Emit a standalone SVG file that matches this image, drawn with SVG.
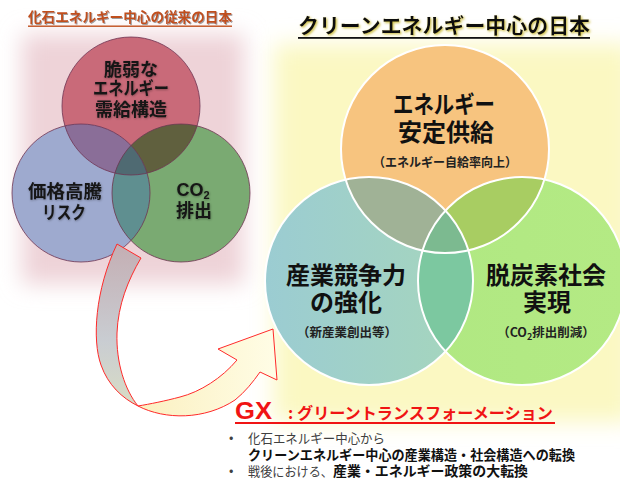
<svg xmlns="http://www.w3.org/2000/svg" width="620" height="479" viewBox="0 0 620 479">
<defs>
<style>
.jp{font-family:"Noto Sans CJK JP","Liberation Sans",sans-serif;}
.b{font-weight:bold;}
.lt{font-size:18px;fill:#151515;font-weight:bold;}
.rt{font-size:24px;fill:#111;font-weight:bold;}
.rs{font-size:12.5px;fill:#222;font-weight:bold;}
.ls{fill:none;stroke:#6e3452;stroke-width:0.8;}
.ws{fill:none;stroke:#ffffff;stroke-width:2;}
.bul{font-size:13px;fill:#404040;}
</style>
<filter id="blur" x="-20%" y="-20%" width="140%" height="140%"><feGaussianBlur stdDeviation="11"/></filter>
<filter id="sh1" x="-10%" y="-30%" width="120%" height="160%"><feDropShadow dx="1" dy="1" stdDeviation="0.6" flood-color="#777" flood-opacity="0.7"/></filter>
<filter id="sh2" x="-10%" y="-30%" width="120%" height="160%"><feDropShadow dx="1.2" dy="1.2" stdDeviation="0.8" flood-color="#c8b830" flood-opacity="0.9"/></filter>
<filter id="sh3" x="-10%" y="-30%" width="120%" height="160%"><feDropShadow dx="0.5" dy="0.8" stdDeviation="0.9" flood-color="#000" flood-opacity="0.35"/></filter>
<clipPath id="cR"><circle cx="131" cy="106" r="69"/></clipPath>
<clipPath id="cB"><circle cx="81" cy="193" r="69"/></clipPath>
<clipPath id="cG"><circle cx="181" cy="193" r="69"/></clipPath>
<clipPath id="cO"><circle cx="445" cy="149" r="104"/></clipPath>
<clipPath id="cT"><circle cx="369" cy="281" r="104"/></clipPath>
<clipPath id="cL"><circle cx="522" cy="281" r="104"/></clipPath>
<linearGradient id="gT" x1="0" y1="0" x2="1" y2="0"><stop offset="0" stop-color="#9bccd2"/><stop offset="1" stop-color="#a6d6bc"/></linearGradient>
<linearGradient id="gL" x1="0" y1="0" x2="1" y2="0"><stop offset="0" stop-color="#b0e882"/><stop offset="1" stop-color="#b4ea84"/></linearGradient>
<linearGradient id="gA" x1="0" y1="0" x2="0" y2="1"><stop offset="0" stop-color="#c4aeb3"/><stop offset="0.6" stop-color="#c9cdd2"/><stop offset="1" stop-color="#d9dcc4"/></linearGradient>
<linearGradient id="gB" x1="0" y1="0" x2="1" y2="0"><stop offset="0" stop-color="#fbf0c0"/><stop offset="1" stop-color="#fffde6"/></linearGradient>
</defs>
<rect width="620" height="479" fill="#ffffff"/>
<rect x="22" y="34" width="222" height="250" fill="#eed3d8" filter="url(#blur)"/>
<rect x="274" y="44" width="360" height="378" fill="#fbf8c2" filter="url(#blur)"/>

<g id="title-left">
<text class="jp b" x="28" y="22" font-size="13.5" fill="#c0501e" textLength="204" lengthAdjust="spacingAndGlyphs" filter="url(#sh1)">化石エネルギー中心の従来の日本</text>
<rect x="28" y="25.5" width="204" height="1.4" fill="#c0501e"/>
</g>
<g id="title-right">
<text class="jp b" x="298" y="33" font-size="21" fill="#111" textLength="292" lengthAdjust="spacingAndGlyphs" filter="url(#sh2)">クリーンエネルギー中心の日本</text>
<rect x="298" y="37" width="292" height="1.8" fill="#111"/>
</g>

<g id="left-venn">
<circle cx="131" cy="106" r="69" fill="#c96a79"/>
<circle cx="81" cy="193" r="69" fill="#9eaacf"/>
<circle cx="181" cy="193" r="69" fill="#7aaa72"/>
<circle cx="81" cy="193" r="69" fill="#8a6e98" clip-path="url(#cR)"/>
<circle cx="181" cy="193" r="69" fill="#60603e" clip-path="url(#cR)"/>
<circle cx="181" cy="193" r="69" fill="#5f8f90" clip-path="url(#cB)"/>
<g clip-path="url(#cR)"><circle cx="181" cy="193" r="69" fill="#4f6a72" clip-path="url(#cB)"/></g>
<circle class="ls" cx="131" cy="106" r="69"/>
<circle class="ls" cx="81" cy="193" r="69"/>
<circle class="ls" cx="181" cy="193" r="69"/>
</g>
<g id="node-fragile" class="jp" filter="url(#sh3)">
<text class="lt" x="131" y="75.5" text-anchor="middle">脆弱な</text>
<text class="lt" x="131" y="95" text-anchor="middle" textLength="76" lengthAdjust="spacingAndGlyphs">エネルギー</text>
<text class="lt" x="131" y="116" text-anchor="middle">需給構造</text>
</g>
<g id="node-price" class="jp" filter="url(#sh3)">
<text class="lt" x="65" y="198" text-anchor="middle" textLength="74" lengthAdjust="spacingAndGlyphs">価格高騰</text>
<text class="lt" x="64" y="219" text-anchor="middle" textLength="44" lengthAdjust="spacingAndGlyphs">リスク</text>
</g>
<g id="node-co2" class="jp" filter="url(#sh3)">
<text class="lt" x="193" y="196" text-anchor="middle" font-family="Liberation Sans, sans-serif">CO<tspan font-size="11" dy="3">2</tspan></text>
<text class="lt" x="194" y="217" text-anchor="middle">排出</text>
</g>

<g id="right-venn">
<circle cx="445" cy="149" r="104" fill="#f7c47f"/>
<circle cx="369" cy="281" r="104" fill="url(#gT)"/>
<circle cx="522" cy="281" r="104" fill="url(#gL)"/>
<circle cx="369" cy="281" r="104" fill="#a0b296" clip-path="url(#cO)"/>
<circle cx="522" cy="281" r="104" fill="#a8cd62" clip-path="url(#cO)"/>
<circle cx="522" cy="281" r="104" fill="#7cc8a0" clip-path="url(#cT)"/>
<g clip-path="url(#cO)"><circle cx="522" cy="281" r="104" fill="#7cba90" clip-path="url(#cT)"/></g>
<circle class="ws" cx="445" cy="149" r="104"/>
<circle class="ws" cx="369" cy="281" r="104"/>
<circle class="ws" cx="522" cy="281" r="104"/>
</g>
<g id="node-energy" class="jp">
<text class="rt" x="444" y="113" text-anchor="middle" textLength="102" lengthAdjust="spacingAndGlyphs">エネルギー</text>
<text class="rt" x="446" y="141" text-anchor="middle">安定供給</text>
<text class="rs" x="445" y="167" text-anchor="middle" textLength="144" lengthAdjust="spacingAndGlyphs">（エネルギー自給率向上）</text>
</g>
<g id="node-industry" class="jp">
<text class="rt" x="346" y="284" text-anchor="middle">産業競争力</text>
<text class="rt" x="346" y="311" text-anchor="middle">の強化</text>
<text class="rs" x="347" y="337" text-anchor="middle">（新産業創出等）</text>
</g>
<g id="node-decarbon" class="jp">
<text class="rt" x="546" y="284" text-anchor="middle">脱炭素社会</text>
<text class="rt" x="547" y="311" text-anchor="middle">実現</text>
<text class="rs" x="546" y="337" text-anchor="middle">（CO<tspan font-size="9" dy="2.5">2</tspan><tspan dy="-2.5">排出削減）</tspan></text>
</g>

<g id="connectors">
<path d="M117,244 L141,258 C128,280 118,305 117,333 C116,363 125,390 138,406 C122,398 108,385 101,365 C92,340 95,290 117,244 Z" fill="url(#gA)" stroke="#ff2a2a" stroke-width="1"/>
<path d="M138,406 C165,420 205,420 235,400 C245,392 253,382 260,372 L277,380 L273,329 L218,349 L237,360 C222,378 200,392 180,397 C165,401 150,404 138,406 Z" fill="url(#gB)" stroke="#ff2a2a" stroke-width="1"/>
</g>

<g id="gx-caption">
<text x="235" y="419" font-family="Liberation Sans, sans-serif" font-weight="bold" font-size="24" fill="#f01414" textLength="37" lengthAdjust="spacingAndGlyphs">GX</text>
<text class="jp b" x="288" y="419" font-size="16" fill="#f01414">:</text>
<text class="jp b" x="297" y="419" font-size="16" fill="#f01414" textLength="256" lengthAdjust="spacingAndGlyphs">グリーントランスフォーメーション</text>
<rect x="235" y="422" width="320" height="2" fill="#f01414"/>
</g>
<g id="bullets" class="jp">
<text class="bul" x="229" y="442">•</text>
<text class="bul" x="248" y="443" textLength="137" lengthAdjust="spacingAndGlyphs">化石エネルギー中心から</text>
<text class="b" x="248" y="460" font-size="13.5" fill="#111" textLength="327" lengthAdjust="spacingAndGlyphs">クリーンエネルギー中心の産業構造・社会構造への転換</text>
<text class="bul" x="229" y="475">•</text>
<text class="bul" x="248" y="476" textLength="85" lengthAdjust="spacingAndGlyphs">戦後における、</text>
<text class="b" x="333" y="476" font-size="13.5" fill="#111" textLength="195" lengthAdjust="spacingAndGlyphs">産業・エネルギー政策の大転換</text>
</g>
</svg>
